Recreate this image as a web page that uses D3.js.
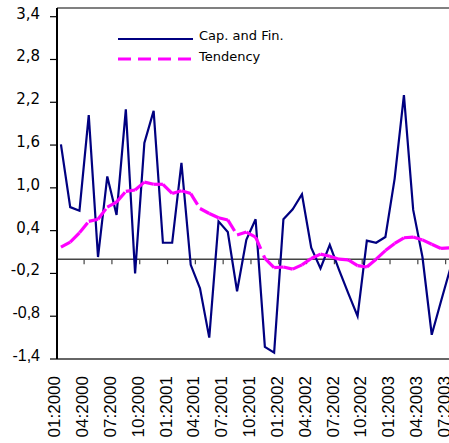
<!DOCTYPE html>
<html>
<head>
<meta charset="utf-8">
<script src="https://cdn.jsdelivr.net/npm/d3@7"></script>
<style>
  body { margin: 0; background: #fff; }
  svg { display: block; }
</style>
</head>
<body>
<div id="chart"></div>
<script>
// monthly categories, 01.2000 .. 07.2003
const months = [
  "01:2000","02:2000","03:2000","04:2000","05:2000","06:2000","07:2000","08:2000","09:2000","10:2000","11:2000","12:2000",
  "01:2001","02:2001","03:2001","04:2001","05:2001","06:2001","07:2001","08:2001","09:2001","10:2001","11:2001","12:2001",
  "01:2002","02:2002","03:2002","04:2002","05:2002","06:2002","07:2002","08:2002","09:2002","10:2002","11:2002","12:2002",
  "01:2003","02:2003","03:2003","04:2003","05:2003","06:2003","07:2003"
];

const capFin = [
  1.61, 0.73, 0.68, 2.02, 0.03, 1.16, 0.62, 2.10, -0.20, 1.63, 2.08, 0.23,
  0.23, 1.35, -0.08, -0.41, -1.10, 0.53, 0.38, -0.45, 0.27, 0.56, -1.23, -1.31,
  0.56, 0.70, 0.91, 0.16, -0.13, 0.20, -0.15, -0.48, -0.80, 0.26, 0.23, 0.31,
  1.13, 2.30, 0.69, 0.03, -1.06, -0.59, -0.13
];

const tendency = [
  0.17, 0.24, 0.37, 0.53, 0.56, 0.73, 0.80, 0.95, 0.97, 1.08, 1.05, 1.05,
  0.92, 0.96, 0.92, 0.71, 0.64, 0.58, 0.55, 0.34, 0.38, 0.31, 0.01, -0.12,
  -0.11, -0.14, -0.08, 0.01, 0.07, 0.04, 0.00, -0.01, -0.09, -0.11, 0.00, 0.12,
  0.22, 0.30, 0.31, 0.27, 0.21, 0.15, 0.16
];

const yTicks = [-1.4, -0.8, -0.2, 0.4, 1.0, 1.6, 2.2, 2.8, 3.4];
const xTickLabels = ["01:2000","04:2000","07:2000","10:2000","01:2001","04:2001","07:2001",
                     "10:2001","01:2002","04:2002","07:2002","10:2002","01:2003","04:2003","07:2003"];
const seriesNames = ["Cap. and Fin.", "Tendency"];

var width = 449, height = 443;
var axisX = 57, plotTop = 8, plotBottom = 359,
    step = 9.27;

var svg = d3.select("#chart").append("svg")
    .attr("width", width)
    .attr("height", height);

var x = d3.scaleBand()
    .domain(months)
    .range([56.3, 56.3 + months.length * step]);

var y = d3.scaleLinear()
    .domain([-1.4, 3.4])
    .range([plotBottom, 16.7]);

function cx(i) { return x(months[i]) + x.bandwidth() / 2; }

// frame: top gray line, left axis, bottom line
svg.append("line")
    .attr("x1", axisX).attr("x2", width)
    .attr("y1", plotTop).attr("y2", plotTop)
    .attr("stroke", "#808080").attr("stroke-width", 2);

svg.append("line")
    .attr("x1", width).attr("x2", axisX)
    .attr("y1", plotBottom).attr("y2", plotBottom)
    .attr("stroke", "#333").attr("stroke-width", 1.5);

// zero line with ticks at every third month boundary
svg.append("line")
    .attr("x1", axisX).attr("x2", width)
    .attr("y1", y(0)).attr("y2", y(0))
    .attr("stroke", "#444").attr("stroke-width", 1.5);

svg.selectAll(".mtick")
    .data(xTickLabels.slice(1))
    .enter().append("line")
    .attr("class", "mtick")
    .attr("x1", function(d) { return x(d); })
    .attr("x2", function(d) { return x(d); })
    .attr("y1", y(0)).attr("y2", y(0) + 5)
    .attr("stroke", "#444").attr("stroke-width", 1.2);

// y axis
svg.append("line")
    .attr("x1", axisX).attr("x2", axisX)
    .attr("y1", plotTop).attr("y2", plotBottom)
    .attr("stroke", "#000").attr("stroke-width", 2);

var yt = svg.selectAll(".ytick")
    .data(yTicks)
    .enter().append("g")
    .attr("class", "ytick")
    .attr("transform", function(d) { return "translate(0," + y(d) + ")"; });

yt.append("line")
    .attr("x1", 50).attr("x2", axisX)
    .attr("stroke", "#000").attr("stroke-width", 1.2);

yt.append("text")
    .attr("x", 40)
    .attr("y", 2)
    .attr("text-anchor", "end")
    .style("font-family", function(d) { return d < -0.5 ? "Liberation Sans, Arial, sans-serif" : "DejaVu Sans, Verdana, sans-serif"; })
    .style("font-size", function(d) { return d < -0.5 ? "16px" : "15px"; })
    .attr("fill", "#000")
    .text(function(d) { return d3.format(".1f")(d).replace(".", ",").replace("−", "-"); });

// x labels, rotated
svg.selectAll(".xlab")
    .data(xTickLabels)
    .enter().append("text")
    .attr("class", "xlab")
    .attr("transform", function(d) { return "translate(" + (x(d) + x.bandwidth() / 2 - 0.5) + ",376) rotate(-90)"; })
    .attr("text-anchor", "end")
    .style("font-family", "Liberation Sans, Arial, sans-serif")
    .style("font-size", "17px")
    .attr("fill", "#000")
    .text(function(d) { return d; });

// Cap. and Fin. series
var line = d3.line()
    .x(function(d, i) { return cx(i); })
    .y(function(d) { return y(d); });

svg.append("path")
    .datum(capFin)
    .attr("d", line)
    .attr("fill", "none")
    .attr("stroke", "#000080")
    .attr("stroke-width", 2.2);

// tendency: dash restarts on every segment
var segs = d3.pairs(tendency.map(function(v, i) { return [cx(i), y(v)]; }));

svg.selectAll(".tseg")
    .data(segs)
    .enter().append("line")
    .attr("class", "tseg")
    .attr("x1", function(d) { return d[0][0]; })
    .attr("y1", function(d) { return d[0][1]; })
    .attr("x2", function(d) { return d[1][0]; })
    .attr("y2", function(d) { return d[1][1]; })
    .attr("stroke", "#ff00ff")
    .attr("stroke-width", 3.2)
    .attr("stroke-dasharray", "13,7");

// legend
var legend = svg.append("g").attr("transform", "translate(118,39)");

legend.append("line")
    .attr("x1", 0).attr("x2", 75)
    .attr("stroke", "#000080").attr("stroke-width", 2.2);

legend.append("line")
    .attr("x1", 0).attr("x2", 75)
    .attr("y1", 20).attr("y2", 20)
    .attr("stroke", "#ff00ff").attr("stroke-width", 3.2)
    .attr("stroke-dasharray", "13,7");

legend.selectAll("text")
    .data(seriesNames)
    .enter().append("text")
    .attr("x", 81)
    .attr("y", function(d, i) { return 1 + i * 21; })
    .style("font-family", "DejaVu Sans, Tahoma, sans-serif")
    .style("font-size", "13px")
    .attr("fill", "#000")
    .text(function(d) { return d; });
</script>
</body>
</html>
